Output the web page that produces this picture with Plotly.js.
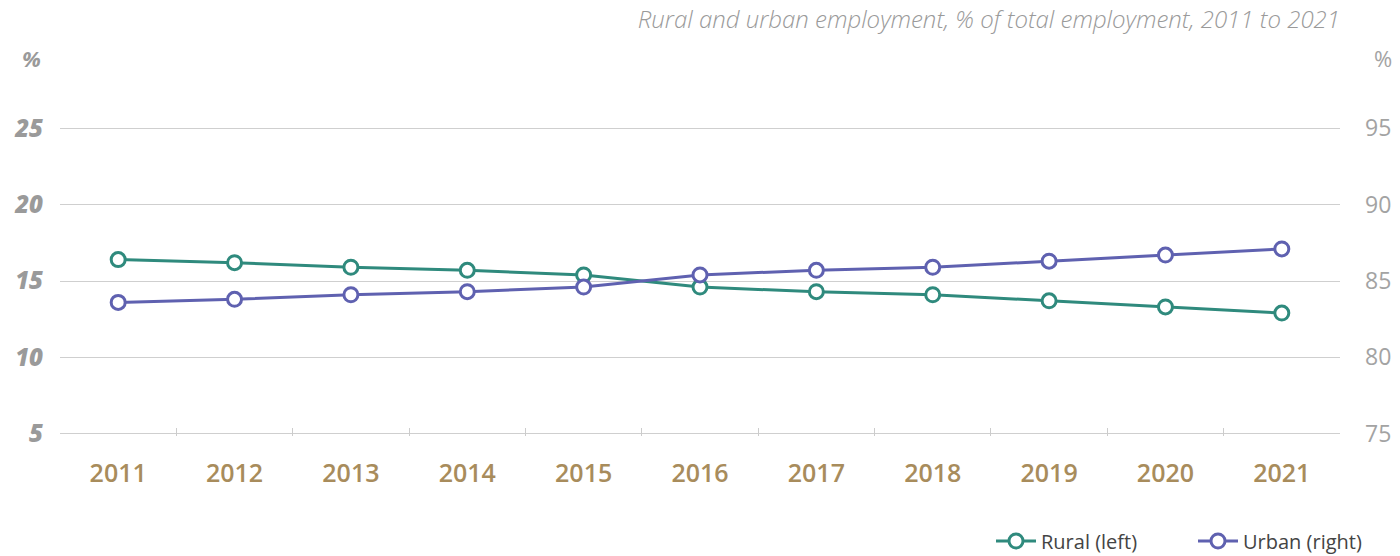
<!DOCTYPE html>
<html><head><meta charset="utf-8">
<script src="https://cdn.plot.ly/plotly-3.0.1.min.js"></script>
<style>html,body{margin:0;padding:0;background:#fff}#c{width:1400px;height:556px}</style>
</head><body><div id="c"></div>
<script>
const years = ['2011','2012','2013','2014','2015','2016','2017','2018','2019','2020','2021'];
const rural = [16.4, 16.2, 15.9, 15.7, 15.4, 14.6, 14.3, 14.1, 13.7, 13.3, 12.9];
const urban = [83.6, 83.8, 84.1, 84.3, 84.6, 85.4, 85.7, 85.9, 86.3, 86.7, 87.1];
const leftTicks = [5, 10, 15, 20, 25];
const rightTicks = [75, 80, 85, 90, 95];
const titleText = 'Rural and urban employment, % of total employment, 2011 to 2021';

const ruralColor = '#2f8a7d';
const urbanColor = '#5f61b0';
const xi = years.map((_, i) => i);

const traces = [
  {x: xi, y: rural, name: 'Rural (left)', type: 'scatter', mode: 'lines+markers', yaxis: 'y',
   line: {color: ruralColor, width: 3}, marker: {symbol: 'circle', size: 14, color: '#fff', line: {color: ruralColor, width: 3}}},
  {x: xi, y: urban, name: 'Urban (right)', type: 'scatter', mode: 'lines+markers', yaxis: 'y2',
   line: {color: urbanColor, width: 3}, marker: {symbol: 'circle', size: 14, color: '#fff', line: {color: urbanColor, width: 3}}}
];

const layout = {
  width: 1400, height: 556,
  margin: {l: 60, r: 60, t: 126, b: 120},
  paper_bgcolor: '#fff', plot_bgcolor: '#fff',
  showlegend: true,
  legend: {orientation: 'h', xref: 'container', yref: 'container', x: 991/1400, xanchor: 'left',
           y: 1 - 541/556, yanchor: 'middle',
           font: {family: 'Open Sans', size: 20, color: '#444'}, itemwidth: 40, entrywidth: 147, traceorder: 'normal'},
  title: {text: titleText, x: 1340/1400, xanchor: 'right', y: 1 - 20/556, yanchor: 'middle',
          font: {family: 'Open Sans', size: 24, color: '#9a9a9a', style: 'italic', weight: 300}},
  xaxis: {range: [-0.5, 10.5], tickvals: xi, ticktext: years, showgrid: false, zeroline: false,
          showline: false, ticks: '', ticklabelstandoff: 20,
          tickfont: {family: 'Open Sans', size: 25, color: '#a88c5c', weight: 600}, fixedrange: true},
  xaxis2: {overlaying: 'x', range: [-0.5, 10.5], anchor: 'y', side: 'bottom',
           tickvals: [0.5,1.5,2.5,3.5,4.5,5.5,6.5,7.5,8.5,9.5], ticks: 'inside', ticklen: 8, tickcolor: '#ccc',
           tickwidth: 1, showticklabels: false, showgrid: false, zeroline: false, showline: false},
  yaxis: {range: [4.85, 25.15], tickvals: leftTicks, showgrid: true, gridcolor: '#cfcfcf', gridwidth: 1,
          zeroline: false, showline: false, ticks: '', ticklabelstandoff: 16,
          tickfont: {family: 'Open Sans', size: 24, color: '#9a9a9a', style: 'italic', weight: 800}},
  yaxis2: {range: [74.85, 95.15], tickvals: rightTicks, overlaying: 'y', side: 'right', showgrid: false,
           zeroline: false, showline: false, ticks: '', ticklabelstandoff: 24,
           tickfont: {family: 'Open Sans', size: 23, color: '#a3a3a3', weight: 500}},
  annotations: [
    {text: '%', xref: 'paper', yref: 'paper', x: -29/1280, y: (432-54)/310, xanchor: 'center', yanchor: 'middle',
     showarrow: false, font: {family: 'Open Sans', size: 22, color: '#9a9a9a', style: 'italic', weight: 700}},
    {text: '%', xref: 'paper', yref: 'paper', x: 1 + 43/1280, y: (432-54)/310, xanchor: 'center', yanchor: 'middle',
     showarrow: false, font: {family: 'Open Sans', size: 22, color: '#a3a3a3', weight: 500}}
  ]
};

// dummy trace to activate xaxis2 ticks
traces.push({x: [0], y: [null], xaxis: 'x2', yaxis: 'y', showlegend: false, hoverinfo: 'skip', type: 'scatter', mode: 'lines'});

Plotly.newPlot('c', traces, layout, {displayModeBar: false, staticPlot: true});
</script></body></html>
